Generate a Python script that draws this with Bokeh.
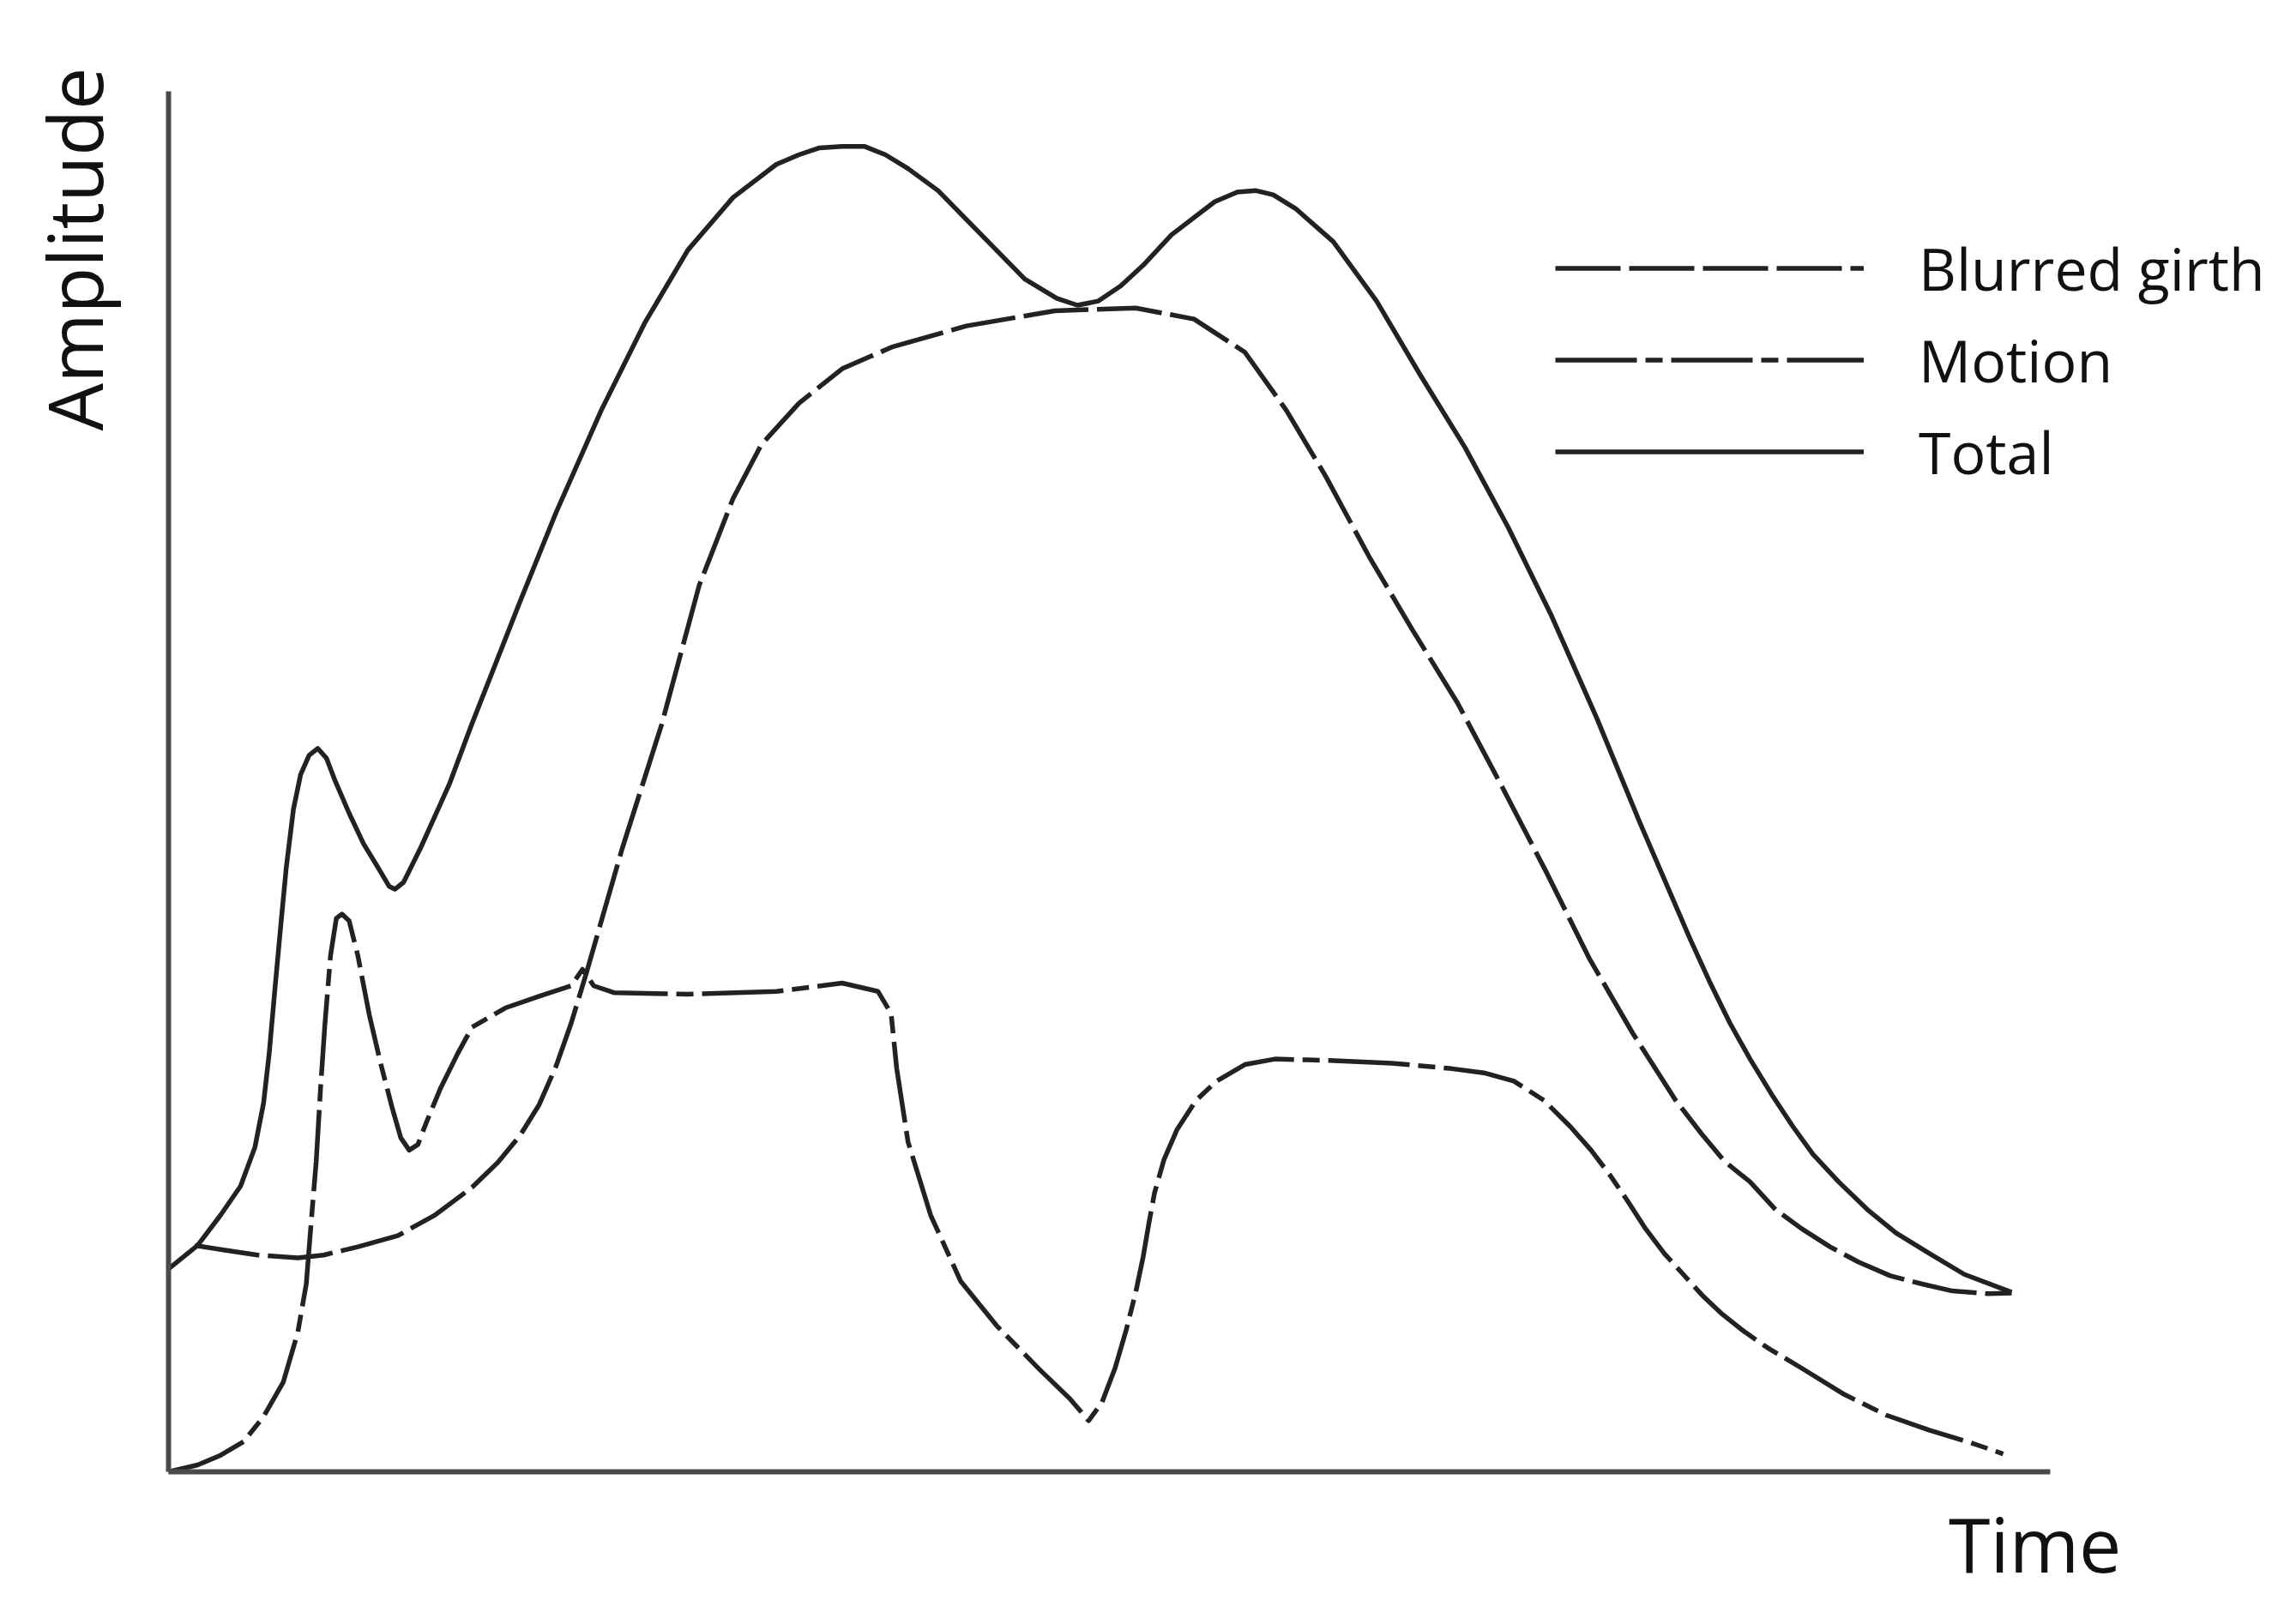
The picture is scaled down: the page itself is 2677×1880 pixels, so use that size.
import math
from bokeh.plotting import figure
from bokeh.models import Range1d, Label, Legend, LegendItem, LinearAxis
from bokeh.embed import file_html
from bokeh.resources import INLINE

# ---- data (time 0..100, amplitude 0..100) ----
total_t = [0, 1.55, 2.77, 3.83, 4.59, 5.05, 5.35, 5.65, 5.96, 6.26, 6.64, 7.02, 7.47, 7.93,
           8.39, 8.84, 9.6, 10.36, 11.12, 11.73, 12.03, 12.49, 13.4, 14.92, 16.1, 18.7, 20.6,
           23.0, 25.3, 27.6, 30.0, 32.3, 33.5, 34.6, 35.8, 37.0, 38.1, 39.3, 40.9, 43.2,
           45.5, 47.2, 48.3, 49.4, 50.6, 51.8, 53.3, 55.6, 56.8, 57.8, 58.7, 59.9, 61.9,
           64.2, 66.5, 68.9, 71.2, 73.5, 75.9, 78.2, 80.86, 81.9, 82.98, 84.05, 85.26,
           86.33, 87.39, 88.76, 90.28, 91.8, 93.6, 95.44, 97.95]
total_a = [14.7, 16.4, 18.6, 20.7, 23.5, 26.7, 30.3, 34.9, 39.5, 43.8, 48.0, 50.5, 51.9, 52.4,
           51.7, 50.1, 47.7, 45.5, 43.8, 42.4, 42.2, 42.7, 45.2, 49.8, 54.1, 63.1, 69.5,
           76.9, 83.2, 88.5, 92.3, 94.7, 95.4, 95.9, 96.0, 96.0, 95.4, 94.4, 92.8, 89.6,
           86.4, 85.0, 84.5, 84.8, 85.9, 87.4, 89.6, 92.0, 92.7, 92.8, 92.5, 91.5, 89.1,
           84.8, 79.5, 74.2, 68.4, 62.0, 54.6, 47.0, 38.6, 35.5, 32.5, 29.9, 27.2,
           25.0, 23.0, 21.0, 19.0, 17.3, 15.8, 14.3, 13.0]

girth_t = [1.4, 2.77, 4.74, 6.87, 8.24, 10.06, 12.18, 14.16, 16.13, 17.5, 18.7, 19.7, 20.6,
           21.4, 22.2, 24.1, 26.2, 28.2, 30.0, 31.5, 33.5, 35.8, 38.5, 42.4, 47.1, 51.4,
           54.5, 57.2, 59.4, 61.5, 63.8, 66.1, 68.5, 70.8, 73.2, 75.5, 77.8, 80.1, 81.46,
           82.68, 84.05, 85.4, 86.8, 88.3, 89.8, 91.5, 93.2, 94.8, 96.7, 97.95]
girth_a = [16.4, 16.1, 15.7, 15.5, 15.7, 16.3, 17.1, 18.6, 20.6, 22.4, 24.4, 26.6, 29.4,
           32.5, 36.1, 45.1, 54.1, 64.2, 70.5, 74.4, 77.4, 79.9, 81.5, 83.0, 84.1, 84.3,
           83.5, 81.1, 76.9, 72.1, 66.3, 61.0, 55.7, 49.8, 43.5, 37.2, 31.8, 26.9, 24.5,
           22.5, 21.0, 19.0, 17.6, 16.3, 15.2, 14.2, 13.6, 13.1, 12.9, 12.95]

motion_t = [0, 1.55, 2.77, 4.0, 5.05, 6.1, 6.87, 7.32, 7.63, 7.85,
            8.08, 8.31, 8.61, 8.92, 9.22, 9.6, 10.06, 10.67, 11.27, 11.88,
            12.34, 12.79, 13.25, 13.7, 14.46, 15.37, 16.13, 17.9, 19.8, 21.4,
            22.0, 22.6, 23.7, 27.6, 32.3, 35.8, 37.7, 38.4, 38.7, 39.3,
            40.5, 42.1, 44.0, 46.3, 47.9, 48.9, 49.6, 50.3, 50.9, 51.4,
            51.8, 52.1, 52.4, 52.9, 53.6, 54.6, 55.7, 57.2, 58.8, 61.7,
            65.0, 68.2, 69.9, 71.5, 73.1, 74.5, 75.6, 76.6, 77.5, 78.5,
            79.5, 80.5, 81.5, 82.5, 83.7, 84.96, 86.8, 89.06, 91.3, 93.6,
            95.9, 97.5]
motion_a = [0, 0.5, 1.2, 2.2, 4.0, 6.5, 10.1, 13.6, 18.9, 22.5,
            27.8, 32.4, 37.4, 40.1, 40.4, 39.9, 37.4, 33.1, 29.6, 26.4,
            24.2, 23.3, 23.7, 25.3, 27.8, 30.3, 32.2, 33.6, 34.5, 35.2,
            36.4, 35.2, 34.7, 34.6, 34.8, 35.4, 34.8, 33.2, 29.2, 23.9,
            18.6, 13.8, 10.6, 7.4, 5.3, 3.7, 5.0, 7.5, 10.3, 13.0,
            15.6, 18.0, 20.2, 22.6, 24.8, 26.9, 28.3, 29.5, 29.9, 29.8,
            29.6, 29.2, 28.9, 28.3, 26.9, 25.0, 23.3, 21.5, 19.7, 17.6,
            15.8, 14.3, 12.8, 11.5, 10.2, 9.0, 7.5, 5.6, 4.1, 3.0,
            2.05, 1.3]

series_labels = ["Blurred girth", "Motion", "Total"]
x_label = "Time"
y_label = "Amplitude"

FONT = "Open Sans"
INK = "#222222"
LW = 5.5
W, H = 2660, 1862

# whole canvas is the frame; axes are pinned at 0 and bounded to 0..100
p = figure(width=W, height=H, output_backend="svg", toolbar_location=None,
           x_axis_location=None, y_axis_location=None,
           x_range=Range1d(-8.933, 112.31), y_range=Range1d(-9.068, 106.58),
           min_border=0)
p.outline_line_color = None
p.grid.visible = False
p.background_fill_color = "white"
p.border_fill_color = "white"

xax = LinearAxis(fixed_location=0, bounds=(0, 100))
yax = LinearAxis(fixed_location=0, bounds=(0, 100))
for ax in (xax, yax):
    ax.major_tick_line_color = None
    ax.minor_tick_line_color = None
    ax.major_label_text_font_size = "0px"
    ax.major_label_text_color = None
    ax.axis_line_color = "#4a4a4a"
    ax.axis_line_width = 6
p.add_layout(xax, "below")
p.add_layout(yax, "left")

r_girth = p.line(girth_t, girth_a, line_color=INK, line_width=LW, line_dash="76 10",
                 line_join="round")
r_motion = p.line(motion_t, motion_a, line_color=INK, line_width=LW, line_dash="95 10 20 10",
                  line_join="round")
r_total = p.line(total_t, total_a, line_color=INK, line_width=LW, line_join="round")

legend = Legend(items=[LegendItem(label=series_labels[0], renderers=[r_girth]),
                       LegendItem(label=series_labels[1], renderers=[r_motion]),
                       LegendItem(label=series_labels[2], renderers=[r_total])],
                location=(1813, 1282), orientation="vertical",
                glyph_width=360, glyph_height=107, label_height=107, spacing=0,
                padding=0, margin=0, label_standoff=64,
                label_text_font=FONT, label_text_font_size="68px", label_text_color="#111111",
                label_text_baseline="middle",
                border_line_color=None, background_fill_alpha=0)
p.add_layout(legend)

p.add_layout(Label(x=94.6, y=-5.2, text=x_label, text_font=FONT, text_font_size="88px",
                   text_color="#111111", text_align="left", text_baseline="alphabetic"))
p.add_layout(Label(x=-5.05, y=75.4, text=y_label, angle=math.pi / 2, text_font=FONT,
                   text_font_size="88px", text_color="#111111", text_align="left",
                   text_baseline="alphabetic"))

open("out.html", "w").write(file_html(p, INLINE))
